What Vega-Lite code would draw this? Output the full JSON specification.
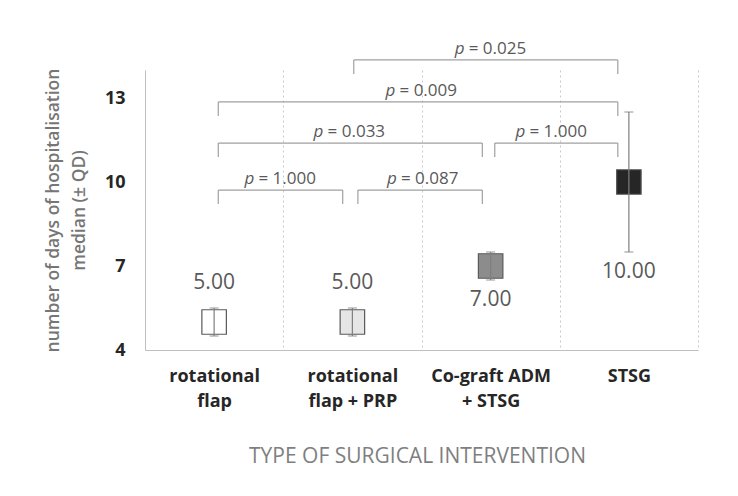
{
  "$schema": "https://vega.github.io/schema/vega-lite/v6.json",
  "autosize": "none",
  "width": 553,
  "height": 280,
  "padding": {"left": 145, "top": 70, "right": 40, "bottom": 146},
  "background": "white",
  "config": {"font": "Open Sans", "view": {"stroke": null}},
  "datasets": {
    "groups": [
      {"cat": "rotational flap", "median": 5, "lo": 4.5, "hi": 5.5},
      {"cat": "rotational flap + PRP", "median": 5, "lo": 4.5, "hi": 5.5},
      {"cat": "Co-graft ADM + STSG", "median": 7, "lo": 6.5, "hi": 7.5},
      {"cat": "STSG", "median": 10, "lo": 7.5, "hi": 12.5}
    ],
    "brackets": [
      {"x1": 2.01, "x2": 3.92, "yb": 14.36, "yt": 13.86, "lx": 3.0, "p": 0.025},
      {"x1": 1.03, "x2": 3.92, "yb": 12.86, "yt": 12.36, "lx": 2.5, "p": 0.009},
      {"x1": 1.03, "x2": 2.94, "yb": 11.39, "yt": 10.89, "lx": 1.98, "p": 0.033},
      {"x1": 3.03, "x2": 3.92, "yb": 11.39, "yt": 10.89, "lx": 3.44, "p": 1.0},
      {"x1": 1.03, "x2": 1.93, "yb": 9.71, "yt": 9.21, "lx": 1.48, "p": 1.0},
      {"x1": 2.04, "x2": 2.94, "yb": 9.71, "yt": 9.21, "lx": 2.51, "p": 0.087}
    ]
  },
  "layer": [
    {
      "data": {"name": "groups"},
      "encoding": {
        "x": {
          "field": "cat", "type": "nominal", "sort": null,
          "scale": {"type": "band", "paddingInner": 0, "paddingOuter": 0},
          "axis": {
            "title": "TYPE OF SURGICAL INTERVENTION",
            "tickBand": "extent",
            "grid": true, "gridDash": [2, 3], "gridColor": "#c8c8c8", "gridWidth": 1,
            "ticks": false,
            "domainColor": "#bfbfbf",
            "labelAngle": 0,
            "labelFont": "Open Sans", "labelFontSize": 18, "labelFontWeight": "bold", "labelColor": "#262626",
            "labelLineHeight": 25, "labelPadding": 17,
            "labelExpr": "datum.value == 'rotational flap' ? ['rotational', 'flap'] : datum.value == 'rotational flap + PRP' ? ['rotational', 'flap + PRP'] : datum.value == 'Co-graft ADM + STSG' ? ['Co-graft ADM', '+ STSG'] : datum.label",
            "titleFont": "Open Sans", "titleFontSize": 21, "titleFontWeight": "normal", "titleColor": "#7f7f7f",
            "titlePadding": 35, "titleX": 272
          }
        }
      },
      "layer": [
        {
          "mark": {"type": "point", "shape": "square", "size": 600, "filled": true, "opacity": 1, "stroke": "#595959", "strokeWidth": 1.2},
          "encoding": {
            "y": {
              "field": "median", "type": "quantitative",
              "scale": {"domain": [4, 14], "nice": false, "zero": false},
              "axis": {
                "title": ["number of days of hospitalisation", "median (± QD)"],
                "values": [4, 7, 10, 13],
                "grid": false, "ticks": false,
                "domainColor": "#bfbfbf",
                "labelFont": "Open Sans", "labelFontSize": 18, "labelFontWeight": "bold", "labelColor": "#262626",
                "labelPadding": 20,
                "titleFont": "Open Sans", "titleFontSize": 17.5, "titleFontWeight": 600, "titleColor": "#767676",
                "titlePadding": 16, "titleLineHeight": 26
              }
            },
            "fill": {
              "field": "cat", "type": "nominal",
              "scale": {"domain": ["rotational flap", "rotational flap + PRP", "Co-graft ADM + STSG", "STSG"], "range": ["#ffffff", "#e6e6e6", "#8c8c8c", "#262626"]},
              "legend": null
            }
          }
        },
        {
          "mark": {"type": "rule", "color": "#7f7f7f", "strokeWidth": 1.2},
          "encoding": {
            "y": {"field": "lo", "type": "quantitative", "scale": {"domain": [4, 14], "nice": false, "zero": false}},
            "y2": {"field": "hi"}
          }
        },
        {
          "mark": {"type": "tick", "color": "#7f7f7f", "size": 9, "thickness": 1.2, "orient": "horizontal"},
          "encoding": {
            "y": {"field": "lo", "type": "quantitative", "scale": {"domain": [4, 14], "nice": false, "zero": false}}
          }
        },
        {
          "mark": {"type": "tick", "color": "#7f7f7f", "size": 9, "thickness": 1.2, "orient": "horizontal"},
          "encoding": {
            "y": {"field": "hi", "type": "quantitative", "scale": {"domain": [4, 14], "nice": false, "zero": false}}
          }
        },
        {
          "transform": [{"filter": {"field": "cat", "oneOf": ["rotational flap", "rotational flap + PRP"]}}],
          "mark": {"type": "text", "fontSize": 21, "color": "#595959", "baseline": "middle", "dy": -25},
          "encoding": {
            "y": {"field": "hi", "type": "quantitative", "scale": {"domain": [4, 14], "nice": false, "zero": false}},
            "text": {"field": "median", "type": "quantitative", "format": ".2f"}
          }
        },
        {
          "transform": [{"filter": {"field": "cat", "oneOf": ["Co-graft ADM + STSG", "STSG"]}}],
          "mark": {"type": "text", "fontSize": 21, "color": "#595959", "baseline": "middle", "dy": 20},
          "encoding": {
            "y": {"field": "lo", "type": "quantitative", "scale": {"domain": [4, 14], "nice": false, "zero": false}},
            "text": {"field": "median", "type": "quantitative", "format": ".2f"}
          }
        }
      ]
    },
    {
      "data": {"name": "brackets"},
      "transform": [{"calculate": "'= ' + format(datum.p, '.3f')", "as": "ptext"}],
      "layer": [
        {
          "mark": {"type": "rule", "color": "#a0a0a0", "strokeWidth": 1.2},
          "encoding": {
            "x": {"field": "x1", "type": "quantitative", "scale": {"domain": [0.5, 4.5], "nice": false, "zero": false}, "axis": null},
            "x2": {"field": "x2"},
            "y": {"field": "yb", "type": "quantitative", "scale": {"domain": [4, 14], "nice": false, "zero": false}}
          }
        },
        {
          "mark": {"type": "rule", "color": "#a0a0a0", "strokeWidth": 1.2},
          "encoding": {
            "x": {"field": "x1", "type": "quantitative", "scale": {"domain": [0.5, 4.5], "nice": false, "zero": false}, "axis": null},
            "y": {"field": "yb", "type": "quantitative", "scale": {"domain": [4, 14], "nice": false, "zero": false}},
            "y2": {"field": "yt"}
          }
        },
        {
          "mark": {"type": "rule", "color": "#a0a0a0", "strokeWidth": 1.2},
          "encoding": {
            "x": {"field": "x2", "type": "quantitative", "scale": {"domain": [0.5, 4.5], "nice": false, "zero": false}, "axis": null},
            "y": {"field": "yb", "type": "quantitative", "scale": {"domain": [4, 14], "nice": false, "zero": false}},
            "y2": {"field": "yt"}
          }
        },
        {
          "mark": {"type": "text", "text": "p", "fontSize": 17, "fontStyle": "italic", "color": "#595959", "align": "left", "baseline": "alphabetic", "dx": -36, "dy": -6},
          "encoding": {
            "x": {"field": "lx", "type": "quantitative", "scale": {"domain": [0.5, 4.5], "nice": false, "zero": false}, "axis": null},
            "y": {"field": "yb", "type": "quantitative", "scale": {"domain": [4, 14], "nice": false, "zero": false}}
          }
        },
        {
          "mark": {"type": "text", "fontSize": 17, "color": "#595959", "align": "left", "baseline": "alphabetic", "dx": -22, "dy": -6},
          "encoding": {
            "x": {"field": "lx", "type": "quantitative", "scale": {"domain": [0.5, 4.5], "nice": false, "zero": false}, "axis": null},
            "y": {"field": "yb", "type": "quantitative", "scale": {"domain": [4, 14], "nice": false, "zero": false}},
            "text": {"field": "ptext", "type": "nominal"}
          }
        }
      ]
    }
  ],
  "resolve": {"scale": {"x": "independent"}}
}
